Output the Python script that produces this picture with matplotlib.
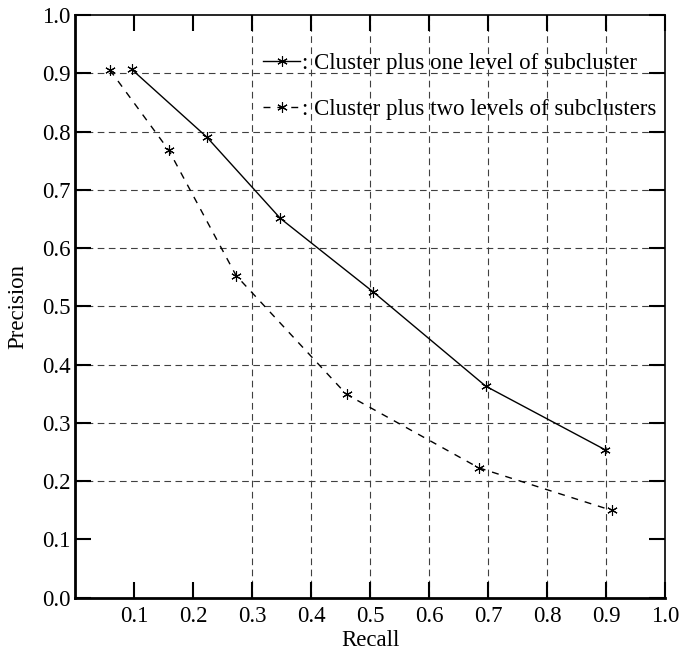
import matplotlib
matplotlib.use("Agg")
import matplotlib.pyplot as plt

# data
recall_one = [0.096, 0.223, 0.348, 0.505, 0.696, 0.898]
prec_one = [0.907, 0.791, 0.651, 0.525, 0.363, 0.254]
recall_two = [0.059, 0.159, 0.273, 0.460, 0.684, 0.909]
prec_two = [0.906, 0.768, 0.553, 0.349, 0.223, 0.150]
label_one = ": Cluster plus one level of subcluster"
label_two = ": Cluster plus two levels of subclusters"
xticks = [0.1, 0.2, 0.3, 0.4, 0.5, 0.6, 0.7, 0.8, 0.9, 1.0]
yticks = [0.0, 0.1, 0.2, 0.3, 0.4, 0.5, 0.6, 0.7, 0.8, 0.9, 1.0]
xgrid = [0.3, 0.4, 0.5, 0.6, 0.7, 0.8, 0.9]
ygrid = [0.2, 0.3, 0.4, 0.5, 0.6, 0.7, 0.8, 0.9]

plt.rcParams["font.family"] = ["Liberation Serif", "DejaVu Serif"]
plt.rcParams["font.size"] = 16

fig = plt.figure(figsize=(6.81, 6.54), dpi=100)
ax = fig.add_axes([0.110, 0.086, 0.867, 0.891])

# grid lines (only some drawn in the original)
for x in xgrid:
    ax.axvline(x, color="0.25", lw=0.8, ls=(0, (6, 4)), zorder=1)
for y in ygrid:
    ax.axhline(y, color="0.25", lw=0.8, ls=(0, (6, 4)), zorder=1)

ax.plot(recall_one, prec_one, color="black", lw=1.0, marker=(6, 2, 0),
        markersize=7.5, mew=0.8, label=label_one, zorder=3)
ax.plot(recall_two, prec_two, color="black", lw=1.0, ls=(0, (5, 5)),
        marker=(6, 2, 0), markersize=7.5, mew=0.8, label=label_two, zorder=3)

ax.set_xlim(0, 1.0)
ax.set_ylim(0, 1.0)
ax.set_xticks(xticks)
ax.set_yticks(yticks)
ax.set_xticklabels(["%.1f" % v for v in xticks])
ax.set_yticklabels(["%.1f" % v for v in yticks])
ax.tick_params(direction="in", length=11.5, width=1.5, top=True, right=True,
               labelsize=16.5)
ax.tick_params(axis="x", pad=6)
ax.tick_params(axis="y", pad=3)
for s in ["left", "bottom"]:
    ax.spines[s].set_linewidth(2.0)
for s in ["top", "right"]:
    ax.spines[s].set_linewidth(1.2)

ax.set_xlabel("Recall", fontsize=16.5, labelpad=2)
ax.set_ylabel("Precision", fontsize=16.5, labelpad=10)

ax.legend(loc="upper left", bbox_to_anchor=(0.30, 0.955), frameon=False,
          handlelength=1.6, handletextpad=0.1, labelspacing=1.1, borderpad=0,
          fontsize=16.5)

fig.savefig("out.png", dpi=100)
